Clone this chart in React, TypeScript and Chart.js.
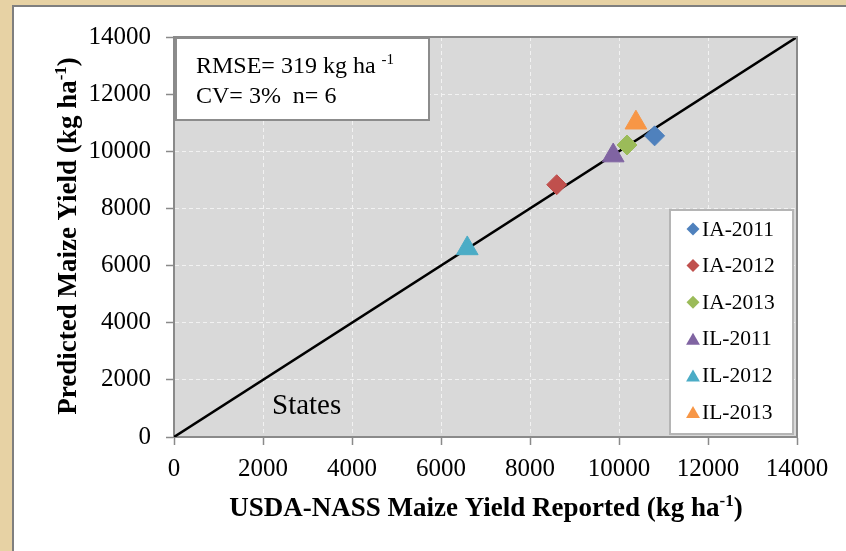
import React, { useEffect, useRef } from 'react';
import { Chart, registerables } from 'chart.js';

Chart.register(...registerables);

// ---------- data ----------
const seriesNames = ['IA-2011', 'IA-2012', 'IA-2013', 'IL-2011', 'IL-2012', 'IL-2013'];
const reportedYield = [10800, 8600, 10180, 9870, 6590, 10380];
const predictedYield = [10540, 8830, 10220, 9850, 6600, 11000];
const seriesColors = ['#4f81bd', '#c0504d', '#9bbb59', '#8064a2', '#4bacc6', '#f79646'];
const seriesShapes = ['rectRot', 'rectRot', 'rectRot', 'triangle', 'triangle', 'triangle'];
const oneToOneX = [0, 14000];
const oneToOneY = [0, 14000];
const axisTickValues = [0, 2000, 4000, 6000, 8000, 10000, 12000, 14000];
const statsLine1 = 'RMSE= 319 kg ha ';
const statsSup = '-1';
const statsLine2 = 'CV= 3%  n= 6';
const regionLabel = 'States';
const xTitleMain = 'USDA-NASS Maize Yield Reported (kg ha';
const yTitleMain = 'Predicted Maize Yield (kg ha';
const titleSup = '-1';
const titleEnd = ')';

const SERIF = "'Liberation Serif', 'Times New Roman', serif";
const AXIS_GRAY = '#8a8a8a';

function drawShape(ctx: CanvasRenderingContext2D, shape: string, x: number, y: number, r: number, color: string) {
  ctx.save();
  ctx.fillStyle = color;
  ctx.beginPath();
  if (shape === 'triangle') {
    ctx.moveTo(x, y - r);
    ctx.lineTo(x + r * Math.sin((2 * Math.PI) / 3), y - r * Math.cos((2 * Math.PI) / 3));
    ctx.lineTo(x + r * Math.sin((4 * Math.PI) / 3), y - r * Math.cos((4 * Math.PI) / 3));
  } else {
    ctx.moveTo(x, y - r);
    ctx.lineTo(x + r, y);
    ctx.lineTo(x, y + r);
    ctx.lineTo(x - r, y);
  }
  ctx.closePath();
  ctx.fill();
  ctx.restore();
}

function drawTextWithSup(
  ctx: CanvasRenderingContext2D,
  main: string,
  sup: string,
  end: string,
  x: number,
  y: number,
  size: number,
  bold: boolean,
  align: 'left' | 'center'
) {
  const w = bold ? 'bold ' : '';
  const mainFont = `${w}${size}px ${SERIF}`;
  const supFont = `${w}${Math.round(size * 0.62)}px ${SERIF}`;
  ctx.save();
  ctx.textAlign = 'left';
  ctx.textBaseline = 'alphabetic';
  ctx.font = mainFont;
  const mw = ctx.measureText(main).width;
  const ew = end ? ctx.measureText(end).width : 0;
  ctx.font = supFont;
  const sw = ctx.measureText(sup).width;
  const total = mw + sw + ew;
  let cx = align === 'center' ? x - total / 2 : x;
  ctx.fillStyle = '#000';
  ctx.font = mainFont;
  ctx.fillText(main, cx, y);
  cx += mw;
  ctx.font = supFont;
  ctx.fillText(sup, cx, y - size * 0.38);
  cx += sw;
  if (end) {
    ctx.font = mainFont;
    ctx.fillText(end, cx, y);
  }
  ctx.restore();
}

const decorPlugin = {
  id: 'decor',
  beforeDraw(chart: any) {
    const { ctx, chartArea } = chart;
    const W = chart.width;
    const H = chart.height;
    ctx.save();
    ctx.fillStyle = '#e7d2a4';
    ctx.fillRect(0, 0, W, H);
    ctx.fillStyle = '#7f7f7f';
    ctx.fillRect(12, 5, W - 12, H - 5);
    ctx.fillStyle = '#ffffff';
    ctx.fillRect(14, 7, W - 14, H - 7);
    ctx.fillStyle = '#d9d9d9';
    ctx.fillRect(chartArea.left, chartArea.top, chartArea.right - chartArea.left, chartArea.bottom - chartArea.top);
    ctx.restore();
  },
  afterDraw(chart: any) {
    const { ctx, chartArea } = chart;
    ctx.save();
    ctx.strokeStyle = AXIS_GRAY;
    ctx.lineWidth = 2;
    ctx.beginPath();
    ctx.moveTo(chartArea.left, chartArea.top);
    ctx.lineTo(chartArea.right, chartArea.top);
    ctx.lineTo(chartArea.right, chartArea.bottom);
    ctx.stroke();

    // stats box
    ctx.fillStyle = '#ffffff';
    ctx.fillRect(176, 38, 253, 82);
    ctx.strokeStyle = '#8c8c8c';
    ctx.lineWidth = 2;
    ctx.strokeRect(176, 38, 253, 82);
    drawTextWithSup(ctx, statsLine1, statsSup, '', 196, 73, 24, false, 'left');
    ctx.font = `24px ${SERIF}`;
    ctx.fillStyle = '#000';
    ctx.textAlign = 'left';
    ctx.textBaseline = 'alphabetic';
    ctx.fillText(statsLine2, 196, 103);

    // legend box
    ctx.fillStyle = '#ffffff';
    ctx.fillRect(670, 210, 123, 224);
    ctx.strokeStyle = '#b5b5b5';
    ctx.lineWidth = 2;
    ctx.strokeRect(670, 210, 123, 224);
    ctx.font = `21.5px ${SERIF}`;
    ctx.textBaseline = 'middle';
    for (let i = 0; i < seriesNames.length; i++) {
      const cy = 229 + i * 36.6;
      const tri = seriesShapes[i] === 'triangle';
      drawShape(ctx, seriesShapes[i], 693, tri ? cy + 2 : cy, tri ? 8 : 6.5, seriesColors[i]);
      ctx.fillStyle = '#000';
      ctx.fillText(seriesNames[i], 702, cy + 1);
    }

    // region label
    ctx.font = `29px ${SERIF}`;
    ctx.textBaseline = 'alphabetic';
    ctx.fillStyle = '#000';
    ctx.fillText(regionLabel, 272, 414);

    // axis titles
    drawTextWithSup(ctx, xTitleMain, titleSup, titleEnd, 486, 516, 27, true, 'center');
    ctx.translate(76, 236);
    ctx.rotate(-Math.PI / 2);
    drawTextWithSup(ctx, yTitleMain, titleSup, titleEnd, 0, 0, 27, true, 'center');
    ctx.restore();
  },
};

export default function App() {
  const canvasRef = useRef<HTMLCanvasElement | null>(null);

  useEffect(() => {
    const canvas = canvasRef.current;
    if (!canvas) return;

    const pointDatasets = seriesNames.map((name, i) => ({
      label: name,
      data: [{ x: reportedYield[i], y: predictedYield[i] }],
      backgroundColor: seriesColors[i],
      borderColor: seriesColors[i],
      borderWidth: 1,
      pointStyle: seriesShapes[i],
      pointRadius: seriesShapes[i] === 'triangle' ? 12.5 : 10,
      showLine: false,
    }));

    const lineDataset = {
      label: '1:1',
      data: oneToOneX.map((x, i) => ({ x, y: oneToOneY[i] })),
      borderColor: '#000000',
      borderWidth: 2.5,
      pointRadius: 0,
      showLine: true,
      fill: false,
    };

    const tickFont = { family: SERIF, size: 25 };
    const scaleCommon = {
      type: 'linear' as const,
      min: 0,
      max: 14000,
      afterBuildTicks: (scale: any) => {
        scale.ticks = axisTickValues.map((v) => ({ value: v }));
      },
      ticks: {
        font: tickFont,
        color: '#000000',
        callback: (v: any) => String(v),
      },
      grid: {
        color: '#f2f2f2',
        lineWidth: 1,
        tickLength: 8,
        tickColor: AXIS_GRAY,
        tickWidth: 1.5,
      },
      border: {
        color: AXIS_GRAY,
        width: 2,
        dash: [4, 3],
      },
    };

    const chart = new Chart(canvas, {
      type: 'scatter',
      data: { datasets: [...pointDatasets, lineDataset] as any },
      options: {
        responsive: false,
        animation: false,
        events: [],
        layout: { padding: { top: 37, right: 49, left: 0, bottom: 0 } },
        plugins: { legend: { display: false }, tooltip: { enabled: false } },
        scales: {
          x: {
            ...scaleCommon,
            position: 'bottom',
            ticks: { ...scaleCommon.ticks, padding: 9, maxRotation: 0 },
            afterFit: (scale: any) => {
              scale.height = 114;
            },
          },
          y: {
            ...scaleCommon,
            position: 'left',
            ticks: { ...scaleCommon.ticks, padding: 15 },
            afterFit: (scale: any) => {
              scale.width = 174;
            },
          },
        } as any,
      },
      plugins: [decorPlugin],
    });

    return () => chart.destroy();
  }, []);

  return (
    <div style={{ position: 'absolute', left: 0, top: 0, width: 846, height: 551 }}>
      <canvas ref={canvasRef} width={846} height={551} style={{ display: 'block', width: 846, height: 551 }} />
    </div>
  );
}
